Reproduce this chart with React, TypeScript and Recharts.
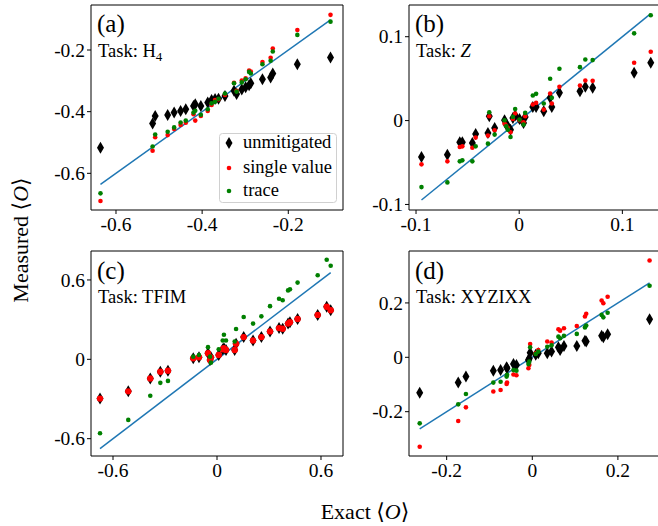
import { ScatterChart, Scatter, XAxis, YAxis, ReferenceArea, ReferenceLine } from "recharts"

const FONT = "'Liberation Serif', 'DejaVu Serif', serif"
const RED = "#ff0000"
const GREEN = "#008000"
const BLUE = "#1f77b4"

// panel (a), task H4
const exactA = [-0.636, -0.515, -0.509, -0.48, -0.465, -0.45, -0.438, -0.42, -0.416, -0.403, -0.387, -0.378, -0.37, -0.362, -0.347, -0.326, -0.32, -0.308, -0.299, -0.291, -0.287, -0.26, -0.241, -0.236, -0.179, -0.102]
const unmitA = [-0.517, -0.438, -0.414, -0.411, -0.403, -0.398, -0.392, -0.382, -0.376, -0.382, -0.37, -0.362, -0.359, -0.358, -0.349, -0.332, -0.343, -0.328, -0.321, -0.314, -0.308, -0.295, -0.289, -0.276, -0.246, -0.224]
const singleA = [-0.69, -0.527, -0.483, -0.476, -0.456, -0.443, -0.436, -0.408, -0.429, -0.414, -0.398, -0.378, -0.362, -0.36, -0.346, -0.306, -0.332, -0.299, -0.292, -0.267, -0.27, -0.239, -0.225, -0.195, -0.135, -0.086]
const traceA = [-0.665, -0.513, -0.474, -0.465, -0.451, -0.435, -0.429, -0.403, -0.397, -0.41, -0.392, -0.373, -0.368, -0.358, -0.341, -0.308, -0.335, -0.305, -0.295, -0.271, -0.276, -0.246, -0.235, -0.205, -0.151, -0.108]

// panel (b), task Z
const exactB = [-0.0947, -0.0696, -0.0576, -0.0551, -0.0454, -0.0422, -0.0303, -0.029, -0.0238, -0.0142, -0.0126, -0.011, -0.0084, -0.0061, -0.0039, 0.0003, 0.0042, 0.0058, 0.0132, 0.0164, 0.0238, 0.03, 0.0316, 0.039, 0.0589, 0.0641, 0.0712, 0.1114, 0.1275]
const unmitB = [-0.0434, -0.0406, -0.0259, -0.0259, -0.0267, -0.0159, -0.0147, 0.0052, -0.0088, 0.0004, -0.0048, -0.0068, -0.0108, 0.0032, 0.006, 0.002, -0.0028, 0.0044, 0.0163, 0.0163, 0.0112, 0.0271, 0.0163, 0.0331, 0.0351, 0.0402, 0.039, 0.057, 0.0689]
const singleB = [-0.0522, -0.0486, -0.0315, -0.0307, -0.0323, -0.0203, -0.0179, 0.0052, -0.0116, -0.0036, -0.006, -0.0088, -0.0139, 0.002, 0.0084, 0.0004, -0.002, 0.0052, 0.0191, 0.0211, 0.0131, 0.0323, 0.0203, 0.0402, 0.0418, 0.0478, 0.0474, 0.0689, 0.0821]
const traceB = [-0.0793, -0.0737, -0.0486, -0.0474, -0.0486, -0.0307, -0.0275, 0.01, -0.0167, 0.0004, -0.0068, -0.0108, -0.0195, 0.0044, 0.0139, 0.0012, -0.0048, 0.0092, 0.0299, 0.0319, 0.0203, 0.0498, 0.0271, 0.0618, 0.0637, 0.0729, 0.0721, 0.104, 0.1255]

// panel (c), task TFIM
const exactC = [-0.675, -0.512, -0.385, -0.327, -0.283, -0.137, -0.104, -0.052, -0.04, -0.035, 0.01, 0.033, 0.04, 0.052, 0.102, 0.11, 0.154, 0.208, 0.256, 0.306, 0.358, 0.379, 0.41, 0.421, 0.465, 0.581, 0.633, 0.656]
const unmitC = [-0.297, -0.242, -0.145, -0.094, -0.086, 0.008, 0.015, 0.046, -0.005, 0.015, 0.033, 0.076, 0.084, 0.071, 0.071, 0.117, 0.168, 0.142, 0.168, 0.211, 0.236, 0.231, 0.27, 0.28, 0.305, 0.336, 0.397, 0.371]
const singleC = [-0.297, -0.242, -0.145, -0.094, -0.086, 0.008, 0.015, 0.046, -0.005, 0.015, 0.033, 0.076, 0.084, 0.071, 0.071, 0.117, 0.168, 0.142, 0.168, 0.211, 0.236, 0.231, 0.27, 0.28, 0.305, 0.336, 0.397, 0.371]
const traceC = [-0.559, -0.458, -0.275, -0.178, -0.163, 0.02, 0.033, 0.092, 0.02, -0.025, 0.076, 0.142, 0.186, 0.142, 0.135, 0.229, 0.32, 0.27, 0.325, 0.402, 0.458, 0.447, 0.521, 0.529, 0.58, 0.636, 0.753, 0.707]

// panel (d), task XYZIXX
const exactD = [-0.263, -0.173, -0.155, -0.091, -0.074, -0.06, -0.059, -0.044, -0.037, -0.009, -0.007, -0.005, 0.008, 0.014, 0.035, 0.045, 0.061, 0.065, 0.074, 0.104, 0.123, 0.126, 0.162, 0.166, 0.176, 0.274]
const unmitD = [-0.13, -0.093, -0.071, -0.049, -0.047, -0.037, -0.04, -0.025, -0.028, -0.01, -0.004, 0.017, 0.009, 0.015, 0.015, 0.021, 0.037, 0.027, 0.042, 0.042, 0.061, 0.058, 0.079, 0.074, 0.085, 0.14]
const singleD = [-0.329, -0.234, -0.184, -0.126, -0.12, -0.098, -0.093, -0.063, -0.066, -0.04, -0.028, 0.049, 0.015, 0.027, 0.058, 0.054, 0.103, 0.098, 0.107, 0.115, 0.15, 0.16, 0.209, 0.199, 0.223, 0.356]
const traceD = [-0.243, -0.173, -0.135, -0.093, -0.09, -0.071, -0.064, -0.047, -0.049, -0.025, -0.016, 0.037, 0.012, 0.021, 0.039, 0.044, 0.076, 0.07, 0.079, 0.086, 0.11, 0.117, 0.156, 0.147, 0.164, 0.263]

const ticksA = [-0.6, -0.4, -0.2]
const ticksB = [-0.1, 0, 0.1]
const ticksC = [-0.6, 0, 0.6]
const ticksD = [-0.2, 0, 0.2]

type Pt = { x: number; y: number }
const pts = (xs: number[], ys: number[]): Pt[] => xs.map((x, i) => ({ x, y: ys[i] }))

const Diamond = (p: any) => {
  const { cx, cy } = p
  if (cx == null || cy == null) return <g />
  return <path d={`M${cx},${cy - 6}L${cx + 3.5},${cy}L${cx},${cy + 6}L${cx - 3.5},${cy}Z`} fill="#000" />
}
const dot = (color: string, r: number) => (p: any) =>
  p.cx == null ? <g /> : <circle cx={p.cx} cy={p.cy} r={r} fill={color} />

const TICK_SIZE = 19.5

const XTick = (p: any) => (
  <text x={p.x} y={p.y} dy="0.75em" textAnchor="middle" fontFamily={FONT} fontSize={TICK_SIZE} fill="#000">
    {String(p.payload.value)}
  </text>
)
const YTick = (p: any) => (
  <text x={p.x} y={p.y} dy="0.34em" textAnchor="end" fontFamily={FONT} fontSize={TICK_SIZE} fill="#000">
    {String(p.payload.value)}
  </text>
)

type PanelProps = {
  frame: [number, number, number, number]
  xDomain: [number, number]
  yDomain: [number, number]
  xTicks: number[]
  yTicks: number[]
  exact: number[]
  unmit: number[]
  single: number[]
  trace: number[]
  redR?: number
}

function Panel({ frame, xDomain, yDomain, xTicks, yTicks, exact, unmit, single, trace, redR = 2.3 }: PanelProps) {
  const [x0, y0, x1, y1] = frame
  const ML = 60, MT = 10, MR = 10, MB = 30
  const lo = Math.min(...exact)
  const hi = Math.max(...exact)
  return (
    <div style={{ position: "absolute", left: x0 - ML, top: y0 - MT }}>
      <ScatterChart width={x1 - x0 + ML + MR} height={y1 - y0 + MT + MB} margin={{ top: MT, right: MR, bottom: 0, left: 0 }}>
        <XAxis type="number" dataKey="x" domain={xDomain} ticks={xTicks} interval={0} allowDataOverflow
          height={MB} axisLine={false} tickLine={{ stroke: "#000" }} tickSize={4} tick={XTick} />
        <YAxis type="number" dataKey="y" domain={yDomain} ticks={yTicks} interval={0} allowDataOverflow
          width={ML} axisLine={false} tickLine={{ stroke: "#000" }} tickSize={4} tick={YTick} />
        <ReferenceLine segment={[{ x: lo, y: lo }, { x: hi, y: hi }]} stroke={BLUE} strokeWidth={1.5} ifOverflow="visible" />
        <Scatter data={pts(exact, unmit)} shape={Diamond} isAnimationActive={false} />
        <Scatter data={pts(exact, single)} shape={dot(RED, redR)} isAnimationActive={false} />
        <Scatter data={pts(exact, trace)} shape={dot(GREEN, 2.3)} isAnimationActive={false} />
        <ReferenceArea x1={xDomain[0]} x2={xDomain[1]} y1={yDomain[0]} y2={yDomain[1]}
          fill="none" stroke="#000" strokeWidth={1} fillOpacity={0} ifOverflow="visible" />
      </ScatterChart>
    </div>
  )
}

export default function App() {
  return (
    <div style={{ position: "fixed", left: 0, top: 0, width: 658, height: 526, overflow: "hidden", background: "#fff" }}>
      <Panel frame={[91, 5, 343, 210]} xDomain={[-0.658, -0.073]} yDomain={[-0.719, -0.054]}
        xTicks={ticksA} yTicks={ticksA} exact={exactA} unmit={unmitA} single={singleA} trace={traceA} />
      <Panel frame={[409, 5, 659, 210]} xDomain={[-0.1068, 0.1355]} yDomain={[-0.1066, 0.1378]}
        xTicks={ticksB} yTicks={ticksB} exact={exactB} unmit={unmitB} single={singleB} trace={traceB} />
      <Panel frame={[91, 251, 343, 456]} xDomain={[-0.727, 0.727]} yDomain={[-0.731, 0.819]}
        xTicks={ticksC} yTicks={ticksC} exact={exactC} unmit={unmitC} single={singleC} trace={traceC} redR={3.2} />
      <Panel frame={[409, 251, 659, 456]} xDomain={[-0.288, 0.296]} yDomain={[-0.363, 0.391]}
        xTicks={ticksD} yTicks={ticksD} exact={exactD} unmit={unmitD} single={singleD} trace={traceD} />

      <svg width={658} height={526} style={{ position: "absolute", left: 0, top: 0, pointerEvents: "none" }}
        fontFamily={FONT} fill="#000">
        <text x={97} y={32} fontSize={25}>(a)</text>
        <text x={98} y={57} fontSize={18.5}>Task: H<tspan fontSize={13} dy={4}>4</tspan></text>
        <text x={415} y={32} fontSize={25}>(b)</text>
        <text x={416} y={57} fontSize={18.5}>Task: <tspan fontStyle="italic">Z</tspan></text>
        <text x={97} y={279} fontSize={25}>(c)</text>
        <text x={98} y={303} fontSize={18.5}>Task: TFIM</text>
        <text x={415} y={279} fontSize={25}>(d)</text>
        <text x={416} y={303} fontSize={18.5}>Task: XYZIXX</text>

        <rect x={219.5} y={133.5} width={117} height={69} rx={3} fill="#fff" stroke="#d0d0d0" />
        <path d="M229,137L232.5,143L229,149L225.5,143Z" fill="#000" />
        <circle cx={229} cy={168} r={2.3} fill={RED} />
        <circle cx={229} cy={191} r={2.3} fill={GREEN} />
        <text x={243} y={148} fontSize={18.5}>unmitigated</text>
        <text x={243} y={173} fontSize={18.5}>single value</text>
        <text x={243} y={196} fontSize={18.5}>trace</text>

        <text x={365} y={519} fontSize={22} textAnchor="middle">Exact ⟨<tspan fontStyle="italic">O</tspan>⟩</text>
        <text x={0} y={0} fontSize={22} textAnchor="middle" transform="translate(28,240) rotate(-90)">
          Measured ⟨<tspan fontStyle="italic">O</tspan>⟩
        </text>
      </svg>
    </div>
  )
}
